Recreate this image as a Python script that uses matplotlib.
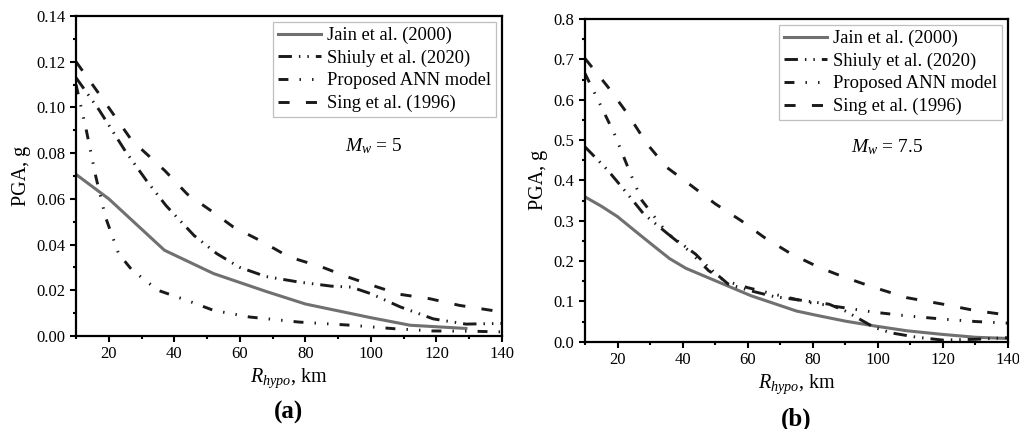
import matplotlib
matplotlib.use('Agg')
import matplotlib.pyplot as plt
from matplotlib.ticker import MultipleLocator, FormatStrFormatter

plt.rcParams['font.family'] = ['Liberation Serif', 'DejaVu Serif']
plt.rcParams['mathtext.fontset'] = 'custom'
plt.rcParams['mathtext.rm'] = 'Liberation Serif'
plt.rcParams['mathtext.it'] = 'Liberation Serif:italic'

labels = ['Jain et al. (2000)', 'Shiuly et al. (2020)', 'Proposed ANN model', 'Sing et al. (1996)']

# (a) Mw = 5
jain_a_x = [10, 20, 37, 52, 68, 80, 100, 112, 129]
jain_a_y = [0.0707, 0.060, 0.0375, 0.0273, 0.0195, 0.014, 0.008, 0.0047, 0.0033]
shiuly_a_x = [10, 17, 25, 31.5, 37.5, 46, 53, 60, 68, 78, 88, 94, 100, 109, 119, 129, 140]
shiuly_a_y = [0.113, 0.099, 0.081, 0.068, 0.057, 0.044, 0.036, 0.030, 0.026, 0.0236, 0.0218, 0.0214,
              0.0185, 0.0127, 0.0075, 0.0052, 0.0055]
ann_a_x = [10, 13, 16, 19, 23, 27, 35, 44, 52, 63, 78, 94, 107, 119, 130, 140]
ann_a_y = [0.110, 0.091, 0.070, 0.052, 0.036, 0.029, 0.020, 0.0155, 0.0112, 0.0083, 0.0061, 0.0047,
           0.0032, 0.0022, 0.0021, 0.0018]
sing_a_x = [10, 17, 27, 37, 44, 51, 58, 66, 75, 85, 93, 102, 109, 118, 127, 140]
sing_a_y = [0.120, 0.106, 0.0856, 0.0725, 0.062, 0.055, 0.0477, 0.0419, 0.0346, 0.0302, 0.0258,
            0.0214, 0.0182, 0.0163, 0.0134, 0.0105]

# (b) Mw = 7.5
jain_b_x = [10, 15, 20, 25, 31, 36, 41, 51, 61, 75, 82, 90, 99, 109, 120, 130, 140]
jain_b_y = [0.359, 0.336, 0.31, 0.277, 0.238, 0.206, 0.182, 0.148, 0.114, 0.076, 0.064, 0.051,
            0.039, 0.027, 0.018, 0.011, 0.008]
shiuly_b_x = [10, 17, 23, 28, 35.5, 44, 48, 54, 60, 68, 78, 85, 90, 99, 104, 112, 120, 130, 140]
shiuly_b_y = [0.483, 0.425, 0.367, 0.317, 0.267, 0.217, 0.184, 0.143, 0.128, 0.112, 0.101, 0.093,
              0.076, 0.035, 0.022, 0.011, 0.004, 0.006, 0.010]
ann_b_x = [10, 14, 19, 24, 27.5, 31.5, 35.5, 42, 48, 53, 60, 68, 79, 89, 99, 109, 120, 130, 140]
ann_b_y = [0.665, 0.599, 0.516, 0.416, 0.350, 0.308, 0.267, 0.225, 0.176, 0.151, 0.134, 0.118,
           0.097, 0.085, 0.073, 0.064, 0.056, 0.050, 0.046]
sing_b_x = [10, 17, 23, 29, 35, 42, 50, 58, 65, 73.5, 82, 90, 99, 109, 120, 130, 140]
sing_b_y = [0.702, 0.632, 0.566, 0.491, 0.433, 0.391, 0.342, 0.300, 0.259, 0.217, 0.184, 0.159,
            0.134, 0.109, 0.093, 0.077, 0.066]

gray = '#707070'
black = '#1a1a1a'
lw = 2.1
styles = [
    dict(color=gray, linestyle='-', lw=2.2),
    dict(color=black, lw=lw, dashes=(4.6, 2.4, 0.5, 2.4, 0.5, 2.4)),
    dict(color=black, lw=lw, dashes=(3.4, 3.8, 0.5, 3.8, 0.5, 3.8)),
    dict(color=black, lw=lw, dashes=(3.8, 5.6)),
]

fig = plt.figure(figsize=(10.19, 4.29), dpi=100)
ax1 = fig.add_axes([0.0746, 0.2168, 0.4180, 0.7459])
ax2 = fig.add_axes([0.5741, 0.2035, 0.4151, 0.7522])

panels = [
    (ax1, [(jain_a_x, jain_a_y), (shiuly_a_x, shiuly_a_y), (ann_a_x, ann_a_y), (sing_a_x, sing_a_y)],
     (0, 0.14), 0.02, '%.2f', r'$M_w$ = 5', (101, 0.083), '(a)'),
    (ax2, [(jain_b_x, jain_b_y), (shiuly_b_x, shiuly_b_y), (ann_b_x, ann_b_y), (sing_b_x, sing_b_y)],
     (0, 0.8), 0.1, '%.1f', r'$M_w$ = 7.5', (103, 0.483), '(b)'),
]

for ax, series, ylim, ystep, yfmt, mw, mwpos, tag in panels:
    for (x, y), lab, st in zip(series, labels, styles):
        ax.plot(x, y, label=lab, **st)
    ax.set_xlim(10, 140)
    ax.set_ylim(*ylim)
    ax.xaxis.set_major_locator(MultipleLocator(20))
    ax.xaxis.set_minor_locator(MultipleLocator(10))
    ax.yaxis.set_major_locator(MultipleLocator(ystep))
    ax.yaxis.set_minor_locator(MultipleLocator(ystep / 2))
    ax.yaxis.set_major_formatter(FormatStrFormatter(yfmt))
    ax.tick_params(which='major', length=4.5, width=1.5, labelsize=12, direction='out', pad=3)
    ax.tick_params(which='minor', length=2.5, width=1.5, direction='out')
    for sp in ax.spines.values():
        sp.set_linewidth(1.6)
    ax.set_ylabel('PGA, g', fontsize=14.5, labelpad=4)
    ax.set_xlabel(r'$R_{hypo}$, km', fontsize=14.5, labelpad=3)
    ax.text(mwpos[0], mwpos[1], mw, fontsize=14, ha='center', va='center')
    ax.text(0.5, -0.24, tag, transform=ax.transAxes, fontsize=18, fontweight='bold',
            ha='center', va='center')
    leg = ax.legend(loc='upper right', fontsize=13.3, frameon=True, fancybox=False,
                    handlelength=2.3, handletextpad=0.35, labelspacing=0.3,
                    borderpad=0.28, borderaxespad=0.3, edgecolor='#b0b0b0')
    leg.get_frame().set_linewidth(0.9)

fig.savefig('out.png', dpi=100)
